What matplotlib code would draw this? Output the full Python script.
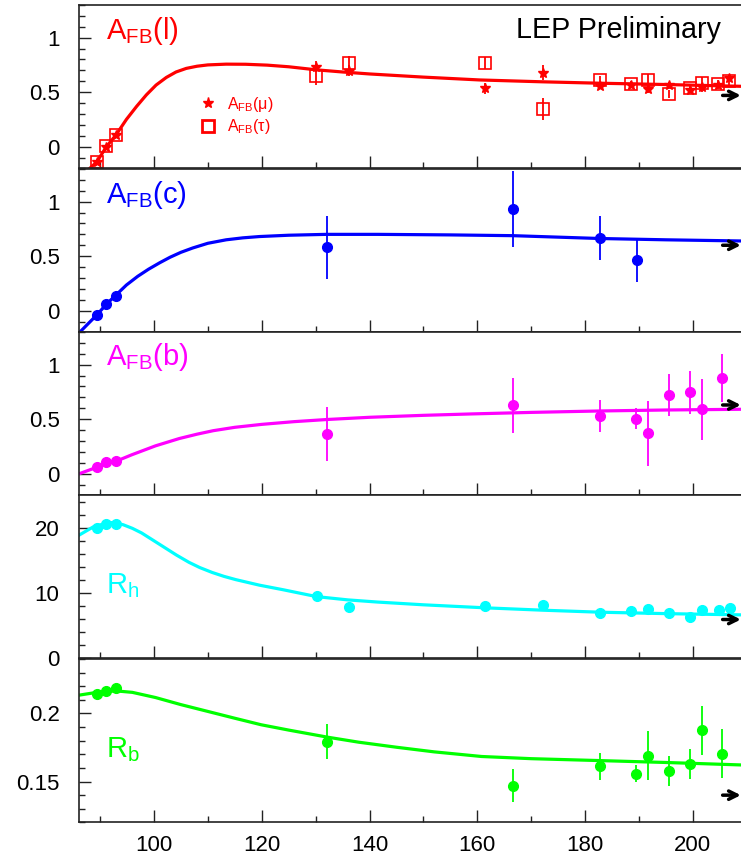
import numpy as np
import matplotlib
matplotlib.use('Agg')
import matplotlib.pyplot as plt
from matplotlib.ticker import MultipleLocator, FuncFormatter

plt.rcParams['font.family'] = ['Liberation Sans', 'DejaVu Sans']
plt.rcParams['mathtext.fontset'] = 'custom'
plt.rcParams['mathtext.rm'] = 'Liberation Sans'
plt.rcParams['mathtext.it'] = 'Liberation Sans:italic'

# ---- A_FB(l) : mu / tau ----
e_lep = [89.4, 91.2, 93.0, 130.1, 136.2, 161.4, 172.1, 182.7, 188.6, 191.6, 195.5, 199.4, 201.6, 204.7, 206.7]
afb_mu = [-0.14, 0.0, 0.105, 0.734, 0.697, 0.537, 0.68, 0.557, 0.566, 0.533, 0.567, 0.52, 0.545, 0.566, 0.628]
afb_mu_err = [0.01, 0.01, 0.01, 0.05, 0.05, 0.05, 0.065, 0.03, 0.02, 0.04, 0.03, 0.03, 0.04, 0.03, 0.03]
afb_tau = [-0.14, 0.003, 0.107, 0.649, 0.765, 0.765, 0.345, 0.612, 0.576, 0.612, 0.482, 0.536, 0.588, 0.573, 0.603]
afb_tau_err = [0.01, 0.01, 0.01, 0.08, 0.07, 0.055, 0.1, 0.04, 0.03, 0.05, 0.04, 0.04, 0.05, 0.04, 0.04]
sm_l_e = [88.1, 89.4, 91.2, 93.0, 94.9, 96.8, 98.6, 100.4, 102.3, 104.1, 106, 108, 110, 113.4, 117, 121, 125, 130.1, 135, 140, 150, 160.4, 172, 182.7, 195, 212]
sm_l = [-0.2, -0.14, 0.0, 0.11, 0.25, 0.37, 0.475, 0.565, 0.635, 0.685, 0.718, 0.738, 0.75, 0.757, 0.756, 0.748, 0.733, 0.705, 0.685, 0.667, 0.638, 0.612, 0.595, 0.582, 0.57, 0.55]

# ---- A_FB(c) ----
e_c = [89.5, 91.2, 92.9, 132.1, 166.6, 182.7, 189.6]
afb_c = [-0.04, 0.06, 0.136, 0.583, 0.93, 0.664, 0.467]
afb_c_err = [0.02, 0.01, 0.02, 0.29, 0.35, 0.2, 0.2]
sm_c_e = [86.2, 89.5, 91.2, 92.9, 94.9, 97, 99, 101.1, 103, 105, 107.2, 110, 113.4, 116.5, 119.6, 125, 132, 141.5, 155, 166.6, 182.7, 195, 212]
sm_c = [-0.2, -0.035, 0.06, 0.14, 0.235, 0.315, 0.38, 0.44, 0.49, 0.535, 0.575, 0.618, 0.65, 0.668, 0.68, 0.692, 0.70, 0.70, 0.695, 0.688, 0.662, 0.65, 0.637]

# ---- A_FB(b) ----
e_b = [89.4, 91.2, 92.9, 132.2, 166.7, 182.7, 189.5, 191.7, 195.5, 199.5, 201.7, 205.4]
afb_b = [0.061, 0.103, 0.112, 0.365, 0.626, 0.529, 0.504, 0.37, 0.723, 0.745, 0.592, 0.881]
afb_b_err = [0.01, 0.01, 0.01, 0.25, 0.25, 0.15, 0.095, 0.3, 0.195, 0.2, 0.28, 0.22]
sm_b_e = [86.2, 89.5, 91.2, 92.8, 95.9, 100.3, 104.7, 108, 111, 115, 120, 126, 132.2, 140, 150, 159, 170, 182.7, 195, 212]
sm_b = [0.0, 0.06, 0.097, 0.11, 0.173, 0.255, 0.322, 0.362, 0.394, 0.425, 0.452, 0.477, 0.497, 0.517, 0.535, 0.548, 0.562, 0.575, 0.584, 0.592]

# ---- R_h ----
e_h = [89.5, 91.2, 92.9, 130.2, 136.2, 161.4, 172.2, 182.7, 188.6, 191.7, 195.5, 199.5, 201.7, 204.9, 206.8]
r_h = [19.95, 20.6, 20.6, 9.5, 7.9, 8.0, 8.15, 7.0, 7.2, 7.6, 6.97, 6.3, 7.35, 7.35, 7.7]
r_h_err = [0.05, 0.05, 0.05, 0.2, 0.2, 0.2, 0.2, 0.1, 0.1, 0.1, 0.1, 0.1, 0.1, 0.1, 0.1]
sm_h_e = [86.2, 88.7, 91.2, 92.5, 94.3, 96, 97.7, 100, 102.1, 104.2, 106.5, 108.5, 110.8, 113, 115.2, 119.6, 124, 130.2, 136, 141.5, 150, 161.4, 172, 182.7, 195, 212]
sm_h = [18.9, 20.1, 20.7, 20.8, 20.45, 19.9, 19.2, 18.0, 16.9, 15.8, 14.7, 13.9, 13.15, 12.55, 12.05, 11.2, 10.5, 9.45, 8.95, 8.62, 8.2, 7.74, 7.38, 7.07, 6.85, 6.62]

# ---- R_b ----
r_b = [0.2146, 0.2166, 0.2186, 0.1793, 0.147, 0.1612, 0.1559, 0.169, 0.158, 0.163, 0.1878, 0.1703]
r_b_err = [0.001, 0.001, 0.001, 0.013, 0.012, 0.01, 0.006, 0.018, 0.011, 0.011, 0.018, 0.018]
sm_rb_e = [86.2, 89.4, 92.9, 96, 100.3, 105, 110.8, 115, 119.9, 125, 132.2, 138, 145, 152, 160.8, 170, 182.7, 195, 212]
sm_rb = [0.2135, 0.2155, 0.2166, 0.2155, 0.2117, 0.2065, 0.2007, 0.1965, 0.1917, 0.1878, 0.1826, 0.1789, 0.1752, 0.1718, 0.1684, 0.1668, 0.1654, 0.1640, 0.1618]

# 右边的黑色箭头 (每个面板一个)
arrow_y = [0.47, 0.60, 0.63, 5.95, 0.140]


W, H = 741.0, 861.0
tops = [5, 169, 332, 495, 659]
ph = 163.4
ax_left = 79
ax_w = 681      # 右边框在图外

def fmt(v, p):
	return '%g' % round(v, 4)

def setup(ax, ylim, major, minor, last=False):
	ax.set_xlim(86.1, 86.1 + ax_w / 5.39)
	ax.set_ylim(*ylim)
	ax.xaxis.set_major_locator(MultipleLocator(20))
	ax.xaxis.set_minor_locator(MultipleLocator(10))
	ax.yaxis.set_major_locator(MultipleLocator(major))
	ax.yaxis.set_minor_locator(MultipleLocator(minor))
	ax.yaxis.set_major_formatter(FuncFormatter(fmt))
	ax.tick_params(axis='both', which='both', direction='in', width=1.0, color='#222222')
	ax.tick_params(axis='both', which='major', length=8.5)
	ax.tick_params(axis='both', which='minor', length=4.5)
	ax.tick_params(axis='y', which='both', left=True, right=False, labelsize=16, pad=14)
	ax.tick_params(axis='x', which='both', bottom=True, top=False, labelsize=16, pad=9, labelbottom=last)
	for s in ax.spines.values():
		s.set_linewidth(1.2)
		s.set_color('#222222')


fig = plt.figure(figsize=(W / 100, H / 100), dpi=100)
axes = []
for t in tops:
	ax = fig.add_axes([ax_left / W, 1 - (t + ph) / H, ax_w / W, ph / H])
	axes.append(ax)

lw_c = 2.3
eb = dict(elinewidth=1.3, capsize=0, linestyle='none')

# 面板1
ax = axes[0]
setup(ax, (-0.2, 1.3), 0.5, 0.1)
ax.plot(sm_l_e, sm_l, color='red', lw=lw_c)
ax.errorbar(e_lep, afb_mu, yerr=afb_mu_err, fmt='*', color='red', ms=7, **eb)
ax.errorbar(e_lep, afb_tau, yerr=afb_tau_err, fmt='s', color='red', mfc='none', mec='red', mew=1.2, ms=8.5, **eb)
h1, = ax.plot([], [], '*', color='red', ms=8, ls='none')
h2, = ax.plot([], [], 's', color='red', mfc='none', mew=2, ms=9, ls='none')
ax.legend([h1, h2], [r'A$_{\rm FB}$(μ)', r'A$_{\rm FB}$(τ)'], loc='upper left',
          bbox_to_anchor=(0.166, 0.50), frameon=False, fontsize=11.5, labelcolor='red',
          handlelength=1.0, handletextpad=0.7, labelspacing=0.22, borderpad=0)
ax.text(0.04, 0.79, r'A$_{\rm FB}$(l)', color='red', fontsize=21, transform=ax.transAxes, va='baseline')
ax.text(0.641, 0.797, 'LEP Preliminary', color='black', fontsize=20.6, transform=ax.transAxes, va='baseline')

# 面板2
ax = axes[1]
setup(ax, (-0.2, 1.3), 0.5, 0.1)
ax.plot(sm_c_e, sm_c, color='blue', lw=lw_c)
ax.errorbar(e_c, afb_c, yerr=afb_c_err, fmt='o', color='blue', ms=7, **eb)
ax.text(0.04, 0.79, r'A$_{\rm FB}$(c)', color='blue', fontsize=21, transform=ax.transAxes, va='baseline')

# 面板3
ax = axes[2]
setup(ax, (-0.2, 1.3), 0.5, 0.1)
ax.plot(sm_b_e, sm_b, color='magenta', lw=lw_c)
ax.errorbar(e_b, afb_b, yerr=afb_b_err, fmt='o', color='magenta', ms=7, **eb)
ax.text(0.04, 0.80, r'A$_{\rm FB}$(b)', color='magenta', fontsize=21, transform=ax.transAxes, va='baseline')

# 面板4
ax = axes[3]
setup(ax, (0, 25), 10, 2)
ax.plot(sm_h_e, sm_h, color='cyan', lw=lw_c)
ax.errorbar(e_h, r_h, yerr=r_h_err, fmt='o', color='cyan', ms=7, **eb)
ax.text(0.04, 0.40, r'R$_{\rm h}$', color='cyan', fontsize=21, transform=ax.transAxes, va='baseline')

# 面板5
ax = axes[4]
setup(ax, (0.12, 0.24), 0.05, 0.01, last=True)
ax.plot(sm_rb_e, sm_rb, color='lime', lw=lw_c)
ax.errorbar(e_b, r_b, yerr=r_b_err, fmt='o', color='lime', ms=7, **eb)
ax.text(0.04, 0.40, r'R$_{\rm b}$', color='lime', fontsize=21, transform=ax.transAxes, va='baseline')

for ax, ya in zip(axes, arrow_y):
	ax.annotate('', xy=(209.4, ya), xytext=(205.0, ya),
	            arrowprops=dict(arrowstyle='->,head_length=0.6,head_width=0.3', lw=2.5, color='black'))

plt.savefig('out.png', dpi=100)
